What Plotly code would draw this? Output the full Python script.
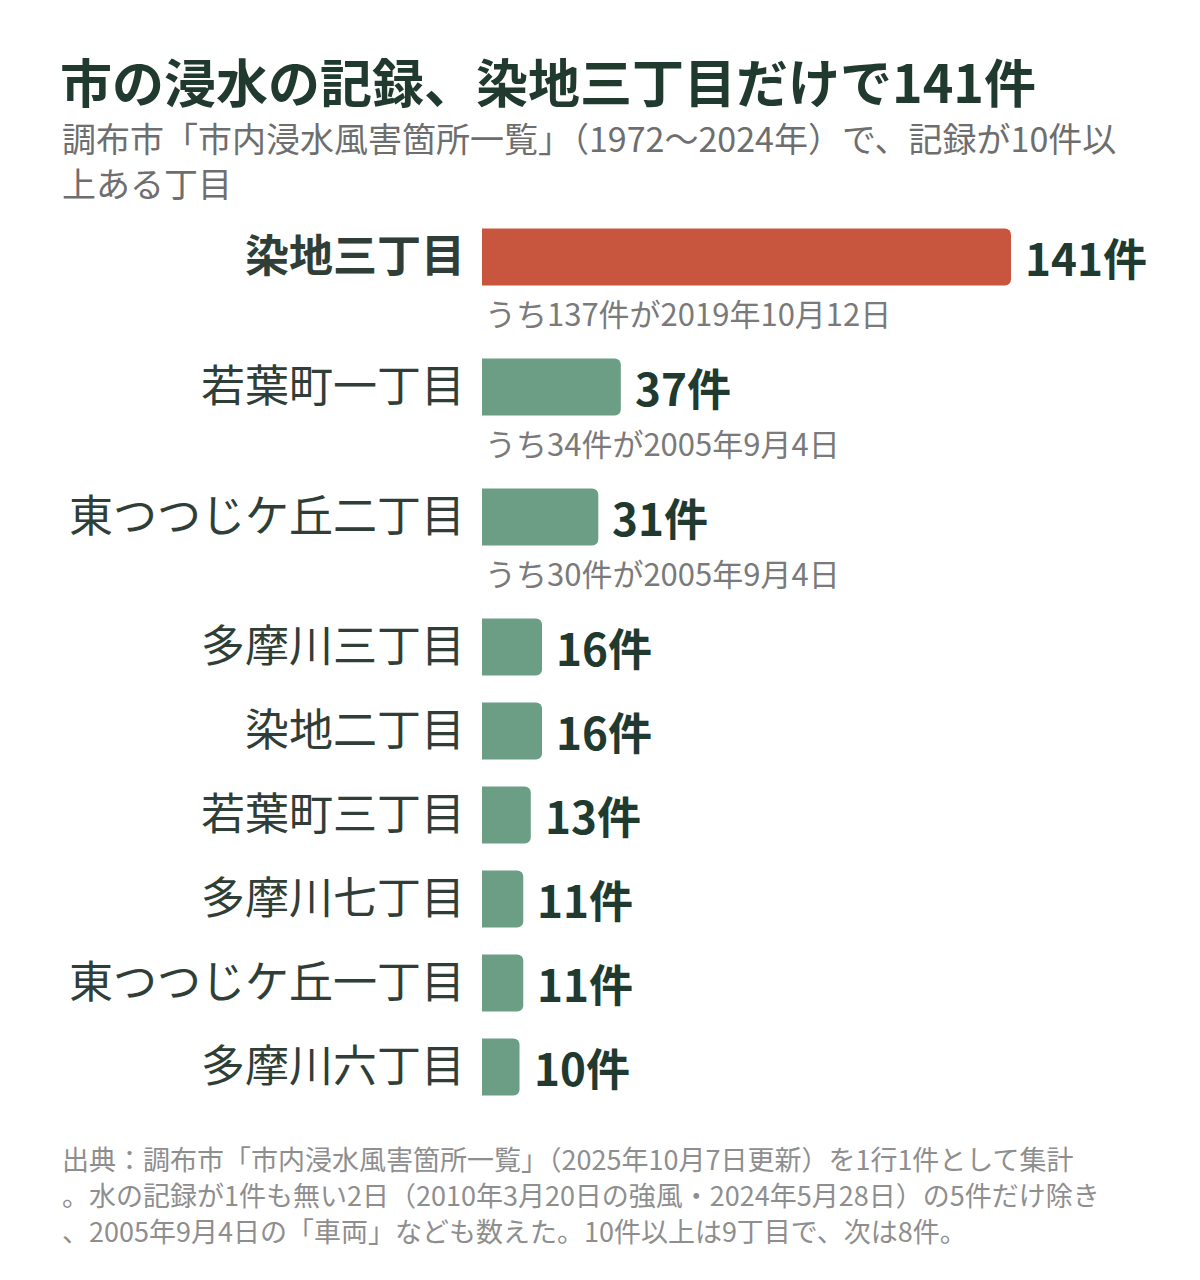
import plotly.graph_objects as go

# --- data -------------------------------------------------------------------
AREAS = [
    "染地三丁目", "若葉町一丁目", "東つつじケ丘二丁目", "多摩川三丁目", "染地二丁目",
    "若葉町三丁目", "多摩川七丁目", "東つつじケ丘一丁目", "多摩川六丁目",
]
COUNTS = [141, 37, 31, 16, 16, 13, 11, 11, 10]
NOTES = [
    "うち137件が2019年10月12日",
    "うち34件が2005年9月4日",
    "うち30件が2005年9月4日",
    "", "", "", "", "", "",
]

TITLE = "市の浸水の記録、染地三丁目だけで141件"
SUBTITLE_LINES = [
    "調布市「市内浸水風害箇所一覧」（1972〜2024年）で、記録が10件以",
    "上ある丁目",
]
FOOTER_LINES = [
    "出典：調布市「市内浸水風害箇所一覧」（2025年10月7日更新）を1行1件として集計",
    "。水の記録が1件も無い2日（2010年3月20日の強風・2024年5月28日）の5件だけ除き",
    "、2005年9月4日の「車両」なども数えた。10件以上は9丁目で、次は8件。",
]

# --- style --------------------------------------------------------------------
FONT = "Noto Sans CJK JP"
DARK = "#213a2f"
RED = "#c8553d"
GREEN = "#6b9e85"
GREY = "#6e6e6e"
NOTE_GREY = "#7a7a7a"
FOOT_GREY = "#8e8e8e"

W, H = 1200, 1280
OFF = 8           # page offset of the plot div
ROW_GAP = 84      # px between rows
NOTE_GAP = 46     # extra px for a row with a note
BAR_H = 57

# row positions (px units on y axis), built from the notes
pos = [0]
for i in range(1, len(AREAS)):
    pos.append(pos[-1] + ROW_GAP + (NOTE_GAP if NOTES[i - 1] else 0))

y_top_px = 215 - OFF
y_span = pos[-1] + ROW_GAP
x_left_px, x_right_px = 482 - OFF, 1011 - OFF

colors = [RED if i == 0 else GREEN for i in range(len(AREAS))]
ticktext = [f"<b>{a}</b>" if i == 0 else a for i, a in enumerate(AREAS)]

fig = go.Figure(go.Bar(
    x=COUNTS, y=pos, orientation="h", width=BAR_H,
    marker=dict(color=colors, cornerradius=6, line=dict(width=0)),
    hoverinfo="skip",
))

# value labels and notes
for i, (c, p) in enumerate(zip(COUNTS, pos)):
    fig.add_annotation(x=c, y=p, text=f"<b>{c}件</b>", showarrow=False,
                       xanchor="left", yanchor="middle", xshift=12,
                       font=dict(family=FONT, size=44, color=DARK))
    if NOTES[i]:
        fig.add_annotation(x=0, y=p + 55, text=NOTES[i], showarrow=False,
                           xanchor="left", yanchor="middle", xshift=1,
                           font=dict(family=FONT, size=31, color=NOTE_GREY))

# title / subtitle / footer (paper coords, margins are 0)
def px(xp, yp):
    return (xp - OFF) / W, 1 - (yp - OFF) / H

tx, ty = px(58, 80)
fig.add_annotation(xref="paper", yref="paper", x=tx, y=ty, text=f"<b>{TITLE}</b>",
                   showarrow=False, xanchor="left", yanchor="middle",
                   font=dict(family=FONT, size=52, color=DARK))
for k, line in enumerate(SUBTITLE_LINES):
    sx, sy = px(60, 137 + 45 * k)
    fig.add_annotation(xref="paper", yref="paper", x=sx, y=sy, text=line,
                       showarrow=False, xanchor="left", yanchor="middle",
                       font=dict(family=FONT, size=34, color=GREY))
for k, line in enumerate(FOOTER_LINES):
    fx, fy = px(60, 1158 + 36 * k)
    fig.add_annotation(xref="paper", yref="paper", x=fx, y=fy, text=line,
                       showarrow=False, xanchor="left", yanchor="middle",
                       font=dict(family=FONT, size=27, color=FOOT_GREY))

fig.update_layout(
    width=W, height=H,
    margin=dict(l=0, r=0, t=0, b=0),
    paper_bgcolor="white", plot_bgcolor="white",
    showlegend=False,
    font=dict(family=FONT, color=DARK),
    xaxis=dict(range=[0, COUNTS[0]], domain=[x_left_px / W, x_right_px / W],
               visible=False, fixedrange=True),
    yaxis=dict(range=[y_span - ROW_GAP / 2, -ROW_GAP / 2],
               domain=[1 - (y_top_px + y_span) / H, 1 - y_top_px / H],
               tickvals=pos, ticktext=ticktext, ticks="",
               ticklabelstandoff=16, showgrid=False, zeroline=False,
               showline=False, fixedrange=True,
               tickfont=dict(family=FONT, size=44, color="#2f3e37")),
)

fig.write_html("out.html")
